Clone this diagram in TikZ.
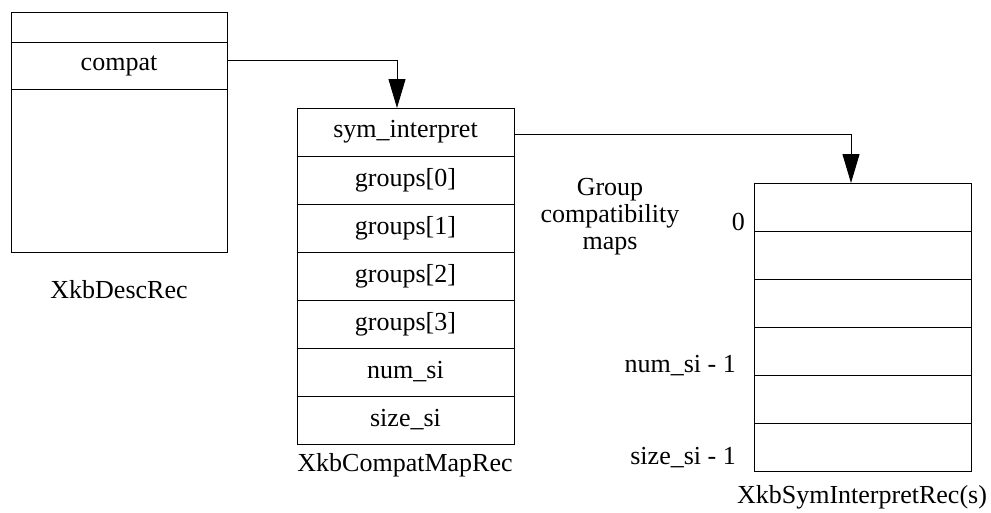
\documentclass[tikz,border=0pt]{standalone}
\usepackage{fontspec}
\setmainfont{Liberation Serif}
\usetikzlibrary{positioning}
\usetikzlibrary{arrows.meta}
\tikzset{
	field/.style = {draw=black, line width=1pt, rectangle, inner sep=0pt, outer sep=0pt,
		minimum width=217pt, minimum height=48pt, align=center,
		font=\fontsize{26}{27}\selectfont},% one field of a record
	recname/.style = {inner sep=0pt, font=\fontsize{26}{27}\selectfont},% record name
	idx/.style = {inner sep=0pt, anchor=east, font=\fontsize{26}{27}\selectfont},% index
	ptr/.style = {line width=1pt, -{Triangle[length=29pt,width=17pt]}}% pointer
}

\begin{document}
\begin{tikzpicture}[x=1pt,y=-1pt]
	\useasboundingbox (0,0) rectangle (991,512);
	% XkbDescRec
	\node[field, minimum width=216pt, minimum height=30pt] (desc_top) at (119,27) {};
	\node[field, minimum width=216pt, minimum height=47pt, below=0pt of desc_top] (compat) {compat};
	\node[field, minimum width=216pt, minimum height=163pt, below=0pt of compat] (desc_rest) {};
	\node[recname] (desc_name) at (119,290) {XkbDescRec};
	% XkbCompatMapRec
	\node[field] (sym_interpret) at (405.5,132) {sym\_interpret};
	\node[field, below=0pt of sym_interpret] (groups0) {groups[0]};
	\node[field, below=0pt of groups0] (groups1) {groups[1]};
	\node[field, below=0pt of groups1] (groups2) {groups[2]};
	\node[field, below=0pt of groups2] (groups3) {groups[3]};
	\node[field, below=0pt of groups3] (num_si) {num\_si};
	\node[field, below=0pt of num_si] (size_si) {size\_si};
	\node[recname] (cm_name) at (405,465) {XkbCompatMapRec};
	\node[recname, align=center] (grp_maps) at (610,217) {Group\\compatibility\\maps};
	% XkbSymInterpretRec(s)
	\node[field] (si0) at (862.5,207) {};
	\node[field, below=0pt of si0] (si1) {};
	\node[field, below=0pt of si1] (si2) {};
	\node[field, below=0pt of si2] (si3) {};
	\node[field, below=0pt of si3] (si4) {};
	\node[field, below=0pt of si4] (si5) {};
	\node[recname] (si_name) at (862,497) {XkbSymInterpretRec(s)};
	\node[idx] (idx_first) at (745,222) {0};
	\node[idx] (idx_num) at (736,366) {num\_si - 1};
	\node[idx] (idx_size) at (736,458) {size\_si - 1};
	% pointers
	\draw[ptr] ([yshift=5pt]compat.east) -| ([xshift=-8.5pt]sym_interpret.north);
	\draw[ptr] ([yshift=-2pt]sym_interpret.east) -| ([xshift=-11.5pt]si0.north);
\end{tikzpicture}
\end{document}
